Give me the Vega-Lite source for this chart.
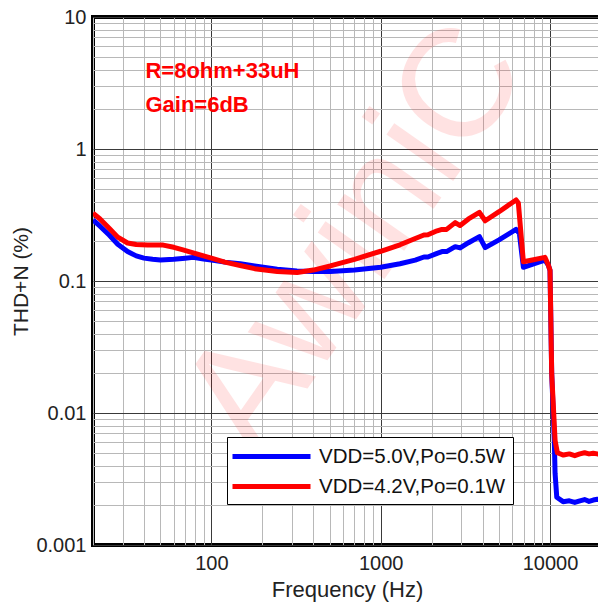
{
  "$schema": "https://vega.github.io/schema/vega-lite/v6.json",
  "width": 508,
  "height": 528,
  "autosize": {"type": "none"},
  "padding": {"left": 93, "top": 17, "right": 0, "bottom": 63},
  "background": "white",
  "config": {
    "view": {"stroke": "#000000", "strokeWidth": 4},
    "font": "Liberation Sans"
  },
  "datasets": {
    "curves": [
      {"f": 20, "thd": 0.29, "s": "VDD=5.0V,Po=0.5W"},
      {"f": 22, "thd": 0.26, "s": "VDD=5.0V,Po=0.5W"},
      {"f": 25, "thd": 0.222, "s": "VDD=5.0V,Po=0.5W"},
      {"f": 28, "thd": 0.19, "s": "VDD=5.0V,Po=0.5W"},
      {"f": 32, "thd": 0.167, "s": "VDD=5.0V,Po=0.5W"},
      {"f": 36, "thd": 0.155, "s": "VDD=5.0V,Po=0.5W"},
      {"f": 40, "thd": 0.149, "s": "VDD=5.0V,Po=0.5W"},
      {"f": 45, "thd": 0.146, "s": "VDD=5.0V,Po=0.5W"},
      {"f": 50, "thd": 0.144, "s": "VDD=5.0V,Po=0.5W"},
      {"f": 60, "thd": 0.146, "s": "VDD=5.0V,Po=0.5W"},
      {"f": 70, "thd": 0.149, "s": "VDD=5.0V,Po=0.5W"},
      {"f": 78, "thd": 0.151, "s": "VDD=5.0V,Po=0.5W"},
      {"f": 90, "thd": 0.147, "s": "VDD=5.0V,Po=0.5W"},
      {"f": 100, "thd": 0.144, "s": "VDD=5.0V,Po=0.5W"},
      {"f": 120, "thd": 0.139, "s": "VDD=5.0V,Po=0.5W"},
      {"f": 148, "thd": 0.135, "s": "VDD=5.0V,Po=0.5W"},
      {"f": 180, "thd": 0.13, "s": "VDD=5.0V,Po=0.5W"},
      {"f": 245, "thd": 0.123, "s": "VDD=5.0V,Po=0.5W"},
      {"f": 320, "thd": 0.119, "s": "VDD=5.0V,Po=0.5W"},
      {"f": 400, "thd": 0.118, "s": "VDD=5.0V,Po=0.5W"},
      {"f": 504, "thd": 0.118, "s": "VDD=5.0V,Po=0.5W"},
      {"f": 700, "thd": 0.121, "s": "VDD=5.0V,Po=0.5W"},
      {"f": 1000, "thd": 0.127, "s": "VDD=5.0V,Po=0.5W"},
      {"f": 1300, "thd": 0.135, "s": "VDD=5.0V,Po=0.5W"},
      {"f": 1600, "thd": 0.144, "s": "VDD=5.0V,Po=0.5W"},
      {"f": 1800, "thd": 0.152, "s": "VDD=5.0V,Po=0.5W"},
      {"f": 1900, "thd": 0.152, "s": "VDD=5.0V,Po=0.5W"},
      {"f": 2154, "thd": 0.162, "s": "VDD=5.0V,Po=0.5W"},
      {"f": 2300, "thd": 0.167, "s": "VDD=5.0V,Po=0.5W"},
      {"f": 2450, "thd": 0.167, "s": "VDD=5.0V,Po=0.5W"},
      {"f": 2754, "thd": 0.182, "s": "VDD=5.0V,Po=0.5W"},
      {"f": 2945, "thd": 0.178, "s": "VDD=5.0V,Po=0.5W"},
      {"f": 3300, "thd": 0.195, "s": "VDD=5.0V,Po=0.5W"},
      {"f": 3828, "thd": 0.217, "s": "VDD=5.0V,Po=0.5W"},
      {"f": 4142, "thd": 0.179, "s": "VDD=5.0V,Po=0.5W"},
      {"f": 5000, "thd": 0.205, "s": "VDD=5.0V,Po=0.5W"},
      {"f": 6300, "thd": 0.246, "s": "VDD=5.0V,Po=0.5W"},
      {"f": 6590, "thd": 0.23, "s": "VDD=5.0V,Po=0.5W"},
      {"f": 6960, "thd": 0.127, "s": "VDD=5.0V,Po=0.5W"},
      {"f": 8000, "thd": 0.135, "s": "VDD=5.0V,Po=0.5W"},
      {"f": 9330, "thd": 0.144, "s": "VDD=5.0V,Po=0.5W"},
      {"f": 9770, "thd": 0.132, "s": "VDD=5.0V,Po=0.5W"},
      {"f": 10000, "thd": 0.12, "s": "VDD=5.0V,Po=0.5W"},
      {"f": 10230, "thd": 0.02, "s": "VDD=5.0V,Po=0.5W"},
      {"f": 10600, "thd": 0.0062, "s": "VDD=5.0V,Po=0.5W"},
      {"f": 10710, "thd": 0.0035, "s": "VDD=5.0V,Po=0.5W"},
      {"f": 10960, "thd": 0.0023, "s": "VDD=5.0V,Po=0.5W"},
      {"f": 11950, "thd": 0.00213, "s": "VDD=5.0V,Po=0.5W"},
      {"f": 13000, "thd": 0.00216, "s": "VDD=5.0V,Po=0.5W"},
      {"f": 14000, "thd": 0.0021, "s": "VDD=5.0V,Po=0.5W"},
      {"f": 15000, "thd": 0.00216, "s": "VDD=5.0V,Po=0.5W"},
      {"f": 16000, "thd": 0.00221, "s": "VDD=5.0V,Po=0.5W"},
      {"f": 17000, "thd": 0.00214, "s": "VDD=5.0V,Po=0.5W"},
      {"f": 18000, "thd": 0.00219, "s": "VDD=5.0V,Po=0.5W"},
      {"f": 19000, "thd": 0.00222, "s": "VDD=5.0V,Po=0.5W"},
      {"f": 20000, "thd": 0.0022, "s": "VDD=5.0V,Po=0.5W"},
      {"f": 20, "thd": 0.327, "s": "VDD=4.2V,Po=0.1W"},
      {"f": 22, "thd": 0.295, "s": "VDD=4.2V,Po=0.1W"},
      {"f": 25, "thd": 0.25, "s": "VDD=4.2V,Po=0.1W"},
      {"f": 28, "thd": 0.215, "s": "VDD=4.2V,Po=0.1W"},
      {"f": 32, "thd": 0.194, "s": "VDD=4.2V,Po=0.1W"},
      {"f": 36, "thd": 0.189, "s": "VDD=4.2V,Po=0.1W"},
      {"f": 42, "thd": 0.187, "s": "VDD=4.2V,Po=0.1W"},
      {"f": 52, "thd": 0.187, "s": "VDD=4.2V,Po=0.1W"},
      {"f": 60, "thd": 0.18, "s": "VDD=4.2V,Po=0.1W"},
      {"f": 68, "thd": 0.172, "s": "VDD=4.2V,Po=0.1W"},
      {"f": 80, "thd": 0.162, "s": "VDD=4.2V,Po=0.1W"},
      {"f": 100, "thd": 0.149, "s": "VDD=4.2V,Po=0.1W"},
      {"f": 120, "thd": 0.139, "s": "VDD=4.2V,Po=0.1W"},
      {"f": 148, "thd": 0.131, "s": "VDD=4.2V,Po=0.1W"},
      {"f": 180, "thd": 0.124, "s": "VDD=4.2V,Po=0.1W"},
      {"f": 245, "thd": 0.118, "s": "VDD=4.2V,Po=0.1W"},
      {"f": 321, "thd": 0.116, "s": "VDD=4.2V,Po=0.1W"},
      {"f": 400, "thd": 0.121, "s": "VDD=4.2V,Po=0.1W"},
      {"f": 504, "thd": 0.13, "s": "VDD=4.2V,Po=0.1W"},
      {"f": 700, "thd": 0.146, "s": "VDD=4.2V,Po=0.1W"},
      {"f": 1000, "thd": 0.168, "s": "VDD=4.2V,Po=0.1W"},
      {"f": 1300, "thd": 0.188, "s": "VDD=4.2V,Po=0.1W"},
      {"f": 1600, "thd": 0.21, "s": "VDD=4.2V,Po=0.1W"},
      {"f": 1800, "thd": 0.223, "s": "VDD=4.2V,Po=0.1W"},
      {"f": 1900, "thd": 0.224, "s": "VDD=4.2V,Po=0.1W"},
      {"f": 2154, "thd": 0.24, "s": "VDD=4.2V,Po=0.1W"},
      {"f": 2300, "thd": 0.246, "s": "VDD=4.2V,Po=0.1W"},
      {"f": 2450, "thd": 0.246, "s": "VDD=4.2V,Po=0.1W"},
      {"f": 2754, "thd": 0.277, "s": "VDD=4.2V,Po=0.1W"},
      {"f": 2945, "thd": 0.263, "s": "VDD=4.2V,Po=0.1W"},
      {"f": 3300, "thd": 0.295, "s": "VDD=4.2V,Po=0.1W"},
      {"f": 3828, "thd": 0.331, "s": "VDD=4.2V,Po=0.1W"},
      {"f": 4142, "thd": 0.286, "s": "VDD=4.2V,Po=0.1W"},
      {"f": 5000, "thd": 0.335, "s": "VDD=4.2V,Po=0.1W"},
      {"f": 6300, "thd": 0.411, "s": "VDD=4.2V,Po=0.1W"},
      {"f": 6500, "thd": 0.39, "s": "VDD=4.2V,Po=0.1W"},
      {"f": 6960, "thd": 0.14, "s": "VDD=4.2V,Po=0.1W"},
      {"f": 8000, "thd": 0.145, "s": "VDD=4.2V,Po=0.1W"},
      {"f": 9330, "thd": 0.151, "s": "VDD=4.2V,Po=0.1W"},
      {"f": 9770, "thd": 0.132, "s": "VDD=4.2V,Po=0.1W"},
      {"f": 10000, "thd": 0.121, "s": "VDD=4.2V,Po=0.1W"},
      {"f": 10230, "thd": 0.02, "s": "VDD=4.2V,Po=0.1W"},
      {"f": 10710, "thd": 0.0062, "s": "VDD=4.2V,Po=0.1W"},
      {"f": 11050, "thd": 0.005, "s": "VDD=4.2V,Po=0.1W"},
      {"f": 12000, "thd": 0.0048, "s": "VDD=4.2V,Po=0.1W"},
      {"f": 13000, "thd": 0.0049, "s": "VDD=4.2V,Po=0.1W"},
      {"f": 14000, "thd": 0.00475, "s": "VDD=4.2V,Po=0.1W"},
      {"f": 15000, "thd": 0.0049, "s": "VDD=4.2V,Po=0.1W"},
      {"f": 16000, "thd": 0.005, "s": "VDD=4.2V,Po=0.1W"},
      {"f": 17000, "thd": 0.0049, "s": "VDD=4.2V,Po=0.1W"},
      {"f": 18000, "thd": 0.00495, "s": "VDD=4.2V,Po=0.1W"},
      {"f": 19000, "thd": 0.0049, "s": "VDD=4.2V,Po=0.1W"},
      {"f": 20000, "thd": 0.0049, "s": "VDD=4.2V,Po=0.1W"}
    ],
    "notes": [
      {"f": 40.8, "thd": 3.45, "txt": "R=8ohm+33uH"},
      {"f": 40.8, "thd": 1.917, "txt": "Gain=6dB"}
    ],
    "mark": [
      {"f": 717, "thd": 0.208, "txt": "AwiniC"}
    ]
  },
  "encoding": {
    "x": {
      "field": "f", "type": "quantitative",
      "scale": {"type": "log", "domain": [20, 20000]},
      "axis": {
        "values": [20,30,40,50,60,70,80,90,100,200,300,400,500,600,700,800,900,1000,2000,3000,4000,5000,6000,7000,8000,9000,10000,20000],
        "labelExpr": "(datum.value==100||datum.value==1000||datum.value==10000) ? ''+datum.value : ''",
        "labelOverlap": false,
        "labelFlush": false,
        "grid": true,
        "gridColor": {"condition": {"test": "datum.value==100||datum.value==1000||datum.value==10000", "value": "#3a3a3a"}, "value": "#b8b8b8"},
        "gridWidth": 1,
        "ticks": false,
        "domain": false,
        "labelFontSize": 20,
        "labelColor": "#222222",
        "labelPadding": 8,
        "title": "Frequency (Hz)",
        "titleFontSize": 22,
        "titleFontWeight": "normal",
        "titleColor": "#222222",
        "titlePadding": 6
      }
    },
    "y": {
      "field": "thd", "type": "quantitative",
      "scale": {"type": "log", "domain": [0.001, 10]},
      "axis": {
        "values": [0.001,0.002,0.003,0.004,0.005,0.006,0.007,0.008,0.009,0.01,0.02,0.03,0.04,0.05,0.06,0.07,0.08,0.09,0.1,0.2,0.3,0.4,0.5,0.6,0.7,0.8,0.9,1,2,3,4,5,6,7,8,9,10],
        "labelExpr": "(datum.value==0.001||datum.value==0.01||datum.value==0.1||datum.value==1||datum.value==10) ? ''+datum.value : ''",
        "labelOverlap": false,
        "labelFlush": false,
        "grid": true,
        "gridColor": {"condition": {"test": "datum.value==0.001||datum.value==0.01||datum.value==0.1||datum.value==1||datum.value==10", "value": "#3a3a3a"}, "value": "#b8b8b8"},
        "gridWidth": 1,
        "ticks": false,
        "domain": false,
        "labelFontSize": 20,
        "labelColor": "#222222",
        "labelPadding": 7,
        "title": "THD+N (%)",
        "titleFontSize": 21,
        "titleFontWeight": "normal",
        "titleColor": "#222222",
        "titlePadding": 4
      }
    }
  },
  "layer": [
    {
      "data": {"name": "mark"},
      "mark": {"type": "text", "angle": -55, "fontSize": 154, "align": "center", "baseline": "middle", "color": "#ff0000", "opacity": 0.11, "font": "Liberation Sans"},
      "encoding": {"text": {"field": "txt"}}
    },
    {
      "data": {"name": "notes"},
      "mark": {"type": "text", "fontSize": 22, "fontWeight": "bold", "align": "left", "baseline": "alphabetic", "color": "#ff0000", "font": "Liberation Sans"},
      "encoding": {"text": {"field": "txt"}}
    },
    {
      "data": {"name": "curves"},
      "mark": {"type": "line", "strokeWidth": 5, "strokeJoin": "round", "clip": true},
      "encoding": {
        "color": {
          "field": "s", "type": "nominal",
          "scale": {"domain": ["VDD=5.0V,Po=0.5W", "VDD=4.2V,Po=0.1W"], "range": ["#0000ff", "#ff0000"]},
          "legend": {
            "orient": "none",
            "legendX": 134,
            "legendY": 420,
            "title": null,
            "symbolType": "M-1.4,0H6.4",
            "symbolSize": 400,
            "symbolStrokeWidth": 5,
            "labelFontSize": 20.5,
            "labelColor": "#111111",
            "labelLimit": 400,
            "labelOffset": 60,
            "fillColor": "#ffffff",
            "strokeColor": "#000000",
            "padding": 7,
            "rowPadding": 7
          }
        }
      }
    }
  ]
}
